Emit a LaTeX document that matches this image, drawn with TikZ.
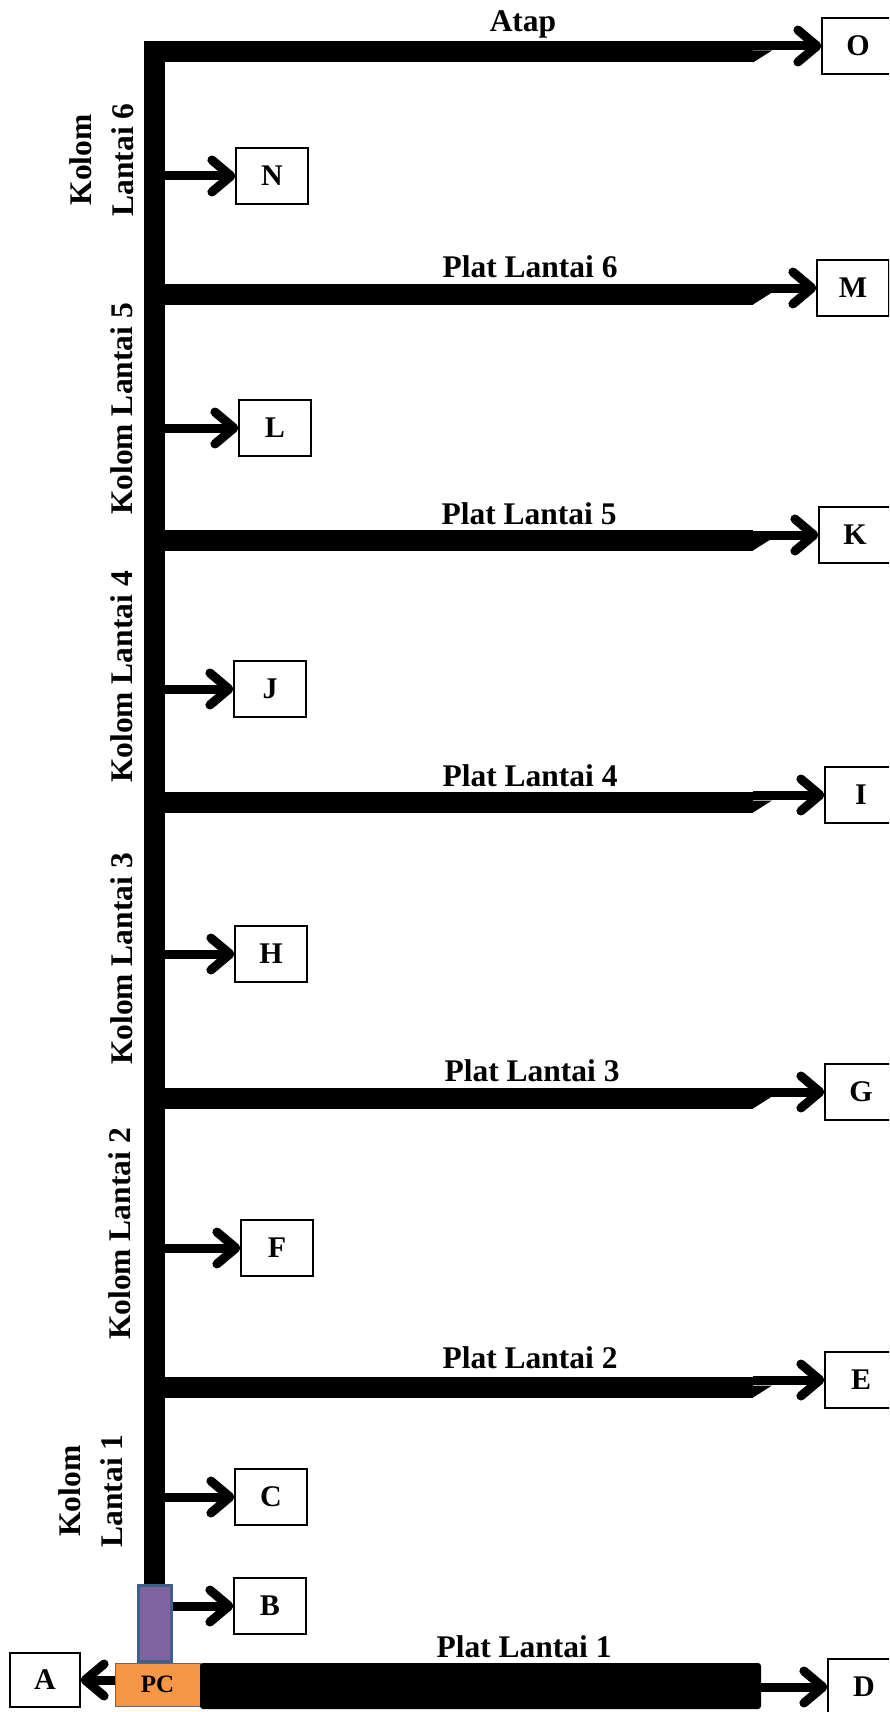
\documentclass[tikz,border=0pt]{standalone}
\usepackage{fontspec}
\setmainfont{Liberation Serif}
\usetikzlibrary{arrows.meta, calc}

\definecolor{pcorange}{HTML}{F79646}
\definecolor{pcpurple}{HTML}{8064A2}
\definecolor{pcblue}{HTML}{3F5F8C}

\begin{document}
\begin{tikzpicture}[
    x=1pt, y=-1pt,
    box/.style={draw, line width=1.2pt, minimum width=72pt, minimum height=56pt,
                font=\fontsize{30}{36}\selectfont\bfseries, fill=white},
    slab/.style={line width=21pt},
    arrow/.style={line width=9pt, -{Straight Barb[length=19pt, width=32pt, line width=9pt, round]}},
    lbl/.style={font=\fontsize{31.5}{42}\selectfont\bfseries, align=center},
    kolom/.style={lbl, rotate=90},
]
\useasboundingbox (0,0) rectangle (889,1712);
\clip (0,0) rectangle (889,1712);

% output boxes
\node[box] (O) at (858,46) {O};
\node[box] (N) at (272,176) {N};
\node[box] (M) at (853,288) {M};
\node[box] (L) at (275,428) {L};
\node[box] (K) at (855,535) {K};
\node[box] (J) at (270,689) {J};
\node[box] (I) at (861,795) {I};
\node[box] (H) at (271,954) {H};
\node[box] (G) at (861,1092) {G};
\node[box] (F) at (277,1248) {F};
\node[box] (E) at (861,1380) {E};
\node[box] (C) at (271,1497) {C};
\node[box] (B) at (270,1606) {B};
\node[box] (D) at (864,1687) {D};
\node[box, minimum width=70pt, minimum height=54pt] (A) at (45,1680) {A};

% pile cap and column stub at the base
\node[draw=pcblue, line width=3pt, fill=pcpurple, minimum width=33pt, minimum height=76pt] (stub) at (155,1623.5) {};
\node[draw=black!60, fill=pcorange, minimum width=85pt, minimum height=43pt,
      font=\fontsize{25}{30}\selectfont\bfseries] (pc) at (157.5,1684.5) {PC};
\node[fill=black, rounded corners=3pt, minimum width=561pt, minimum height=46pt] (slab1) at (480.5,1686) {};

% slab ends on each floor
\coordinate (top)  at (154,52);   \coordinate (atape) at (753,52);
\coordinate (p6)   at (154,294);  \coordinate (p6e) at (753,294);
\coordinate (p5)   at (154,540);  \coordinate (p5e) at (753,540);
\coordinate (p4)   at (154,802);  \coordinate (p4e) at (753,802);
\coordinate (p3)   at (154,1098); \coordinate (p3e) at (753,1098);
\coordinate (p2)   at (154,1387); \coordinate (p2e) at (753,1387);

% column up to the roof
\draw[slab] (top |- stub.north) -- (top) -- (atape);
\draw[slab] (p6) -- (p6e);
\draw[slab] (p5) -- (p5e);
\draw[slab] (p4) -- (p4e);
\draw[slab] (p3) -- (p3e);
\draw[slab] (p2) -- (p2e);
\foreach \p in {atape,p6e,p5e,p4e,p3e,p2e}
    \fill ($(\p)+(0,10.5)$) -- ++(19,-12) -- ++(-19,0) -- cycle;

% slabs to the right
\draw[arrow] (atape |- O) -- (O);
\draw[arrow] (p6e |- M) -- (M);
\draw[arrow] (p5e |- K) -- (K);
\draw[arrow] (p4e |- I) -- (I);
\draw[arrow] (p3e |- G) -- (G);
\draw[arrow] (p2e |- E) -- (E);
\draw[arrow] (slab1.east |- D) -- (D);
\draw[arrow] (pc.west |- A) -- (A);

% columns to the left boxes
\draw[arrow] (top |- N) -- (N);
\draw[arrow] (top |- L) -- (L);
\draw[arrow] (top |- J) -- (J);
\draw[arrow] (top |- H) -- (H);
\draw[arrow] (top |- F) -- (F);
\draw[arrow] (top |- C) -- (C);
\draw[arrow] (stub.east |- B) -- (B);

% slab names
\node[lbl] (tatap) at (523,24) {Atap};
\node[lbl] (tp6) at (530,267) {Plat Lantai 6};
\node[lbl] (tp5) at (529,514) {Plat Lantai 5};
\node[lbl] (tp4) at (530,776) {Plat Lantai 4};
\node[lbl] (tp3) at (532,1071) {Plat Lantai 3};
\node[lbl] (tp2) at (530,1358) {Plat Lantai 2};
\node[lbl] (tp1) at (524,1647) {Plat Lantai 1};

% column names
\node[kolom] (k6) at (102,160) {Kolom\\Lantai 6};
\node[kolom] (k5) at (122,409) {Kolom Lantai 5};
\node[kolom] (k4) at (122,677) {Kolom Lantai 4};
\node[kolom] (k3) at (122,959) {Kolom Lantai 3};
\node[kolom] (k2) at (120,1234) {Kolom Lantai 2};
\node[kolom] (k1) at (91,1491) {Kolom\\Lantai 1};

\end{tikzpicture}
\end{document}
